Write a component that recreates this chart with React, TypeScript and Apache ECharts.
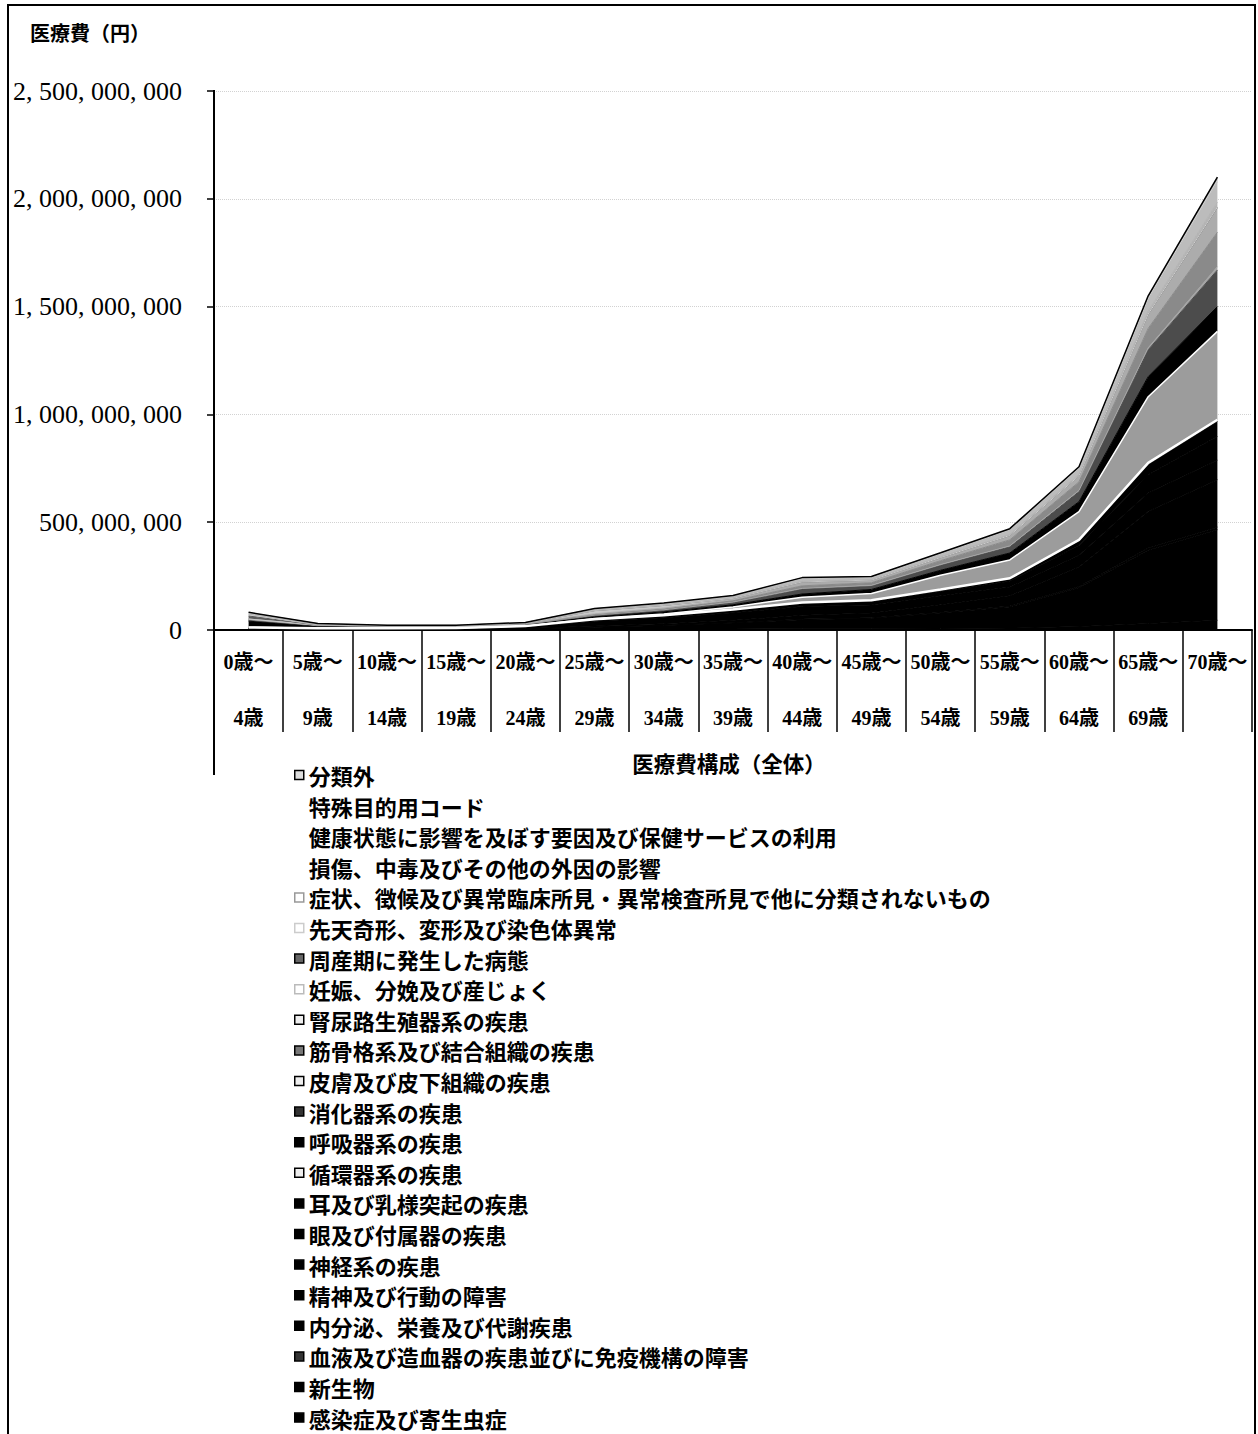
import React, { useEffect, useRef } from 'react';
import * as echarts from 'echarts';

// ---- categories ----
const AGE_FROM = ['0歳～', '5歳～', '10歳～', '15歳～', '20歳～', '25歳～', '30歳～', '35歳～', '40歳～', '45歳～', '50歳～', '55歳～', '60歳～', '65歳～', '70歳～'];
const AGE_TO = ['4歳', '9歳', '14歳', '19歳', '24歳', '29歳', '34歳', '39歳', '44歳', '49歳', '54歳', '59歳', '64歳', '69歳', ''];

// ---- y axis ----
const Y_MIN = 0;
const Y_MAX = 2500000000;
const Y_STEP = 500000000;

// values below are in millions of yen
const UNIT = 1000000;

// series names, bottom of the stack first
const SERIES_NAMES = [
  '感染症及び寄生虫症',
  '新生物',
  '血液及び造血器の疾患並びに免疫機構の障害',
  '内分泌、栄養及び代謝疾患',
  '精神及び行動の障害',
  '神経系の疾患',
  '眼及び付属器の疾患',
  '耳及び乳様突起の疾患',
  '循環器系の疾患',
  '呼吸器系の疾患',
  '消化器系の疾患',
  '皮膚及び皮下組織の疾患',
  '筋骨格系及び結合組織の疾患',
  '腎尿路生殖器系の疾患',
  '妊娠、分娩及び産じょく',
  '周産期に発生した病態',
  '先天奇形、変形及び染色体異常',
  '症状、徴候及び異常臨床所見・異常検査所見で他に分類されないもの',
  '損傷、中毒及びその他の外因の影響',
  '健康状態に影響を及ぼす要因及び保健サービスの利用',
  '特殊目的用コード',
  '分類外',
];

const V_INFECT = [6, 2.5, 1.2, 1, 1.5, 3, 4, 5, 6, 6, 7, 9, 16, 30, 45];
const V_NEOPLASM = [1.5, 1, 1.5, 1.8, 3, 10, 17, 27, 42, 48, 72, 98, 180, 340, 420];
const V_BLOOD = [0.5, 0.3, 0.3, 0.3, 0.5, 1, 1.5, 2, 2.5, 2.5, 3, 4, 6, 10, 12];
const V_ENDOCRINE = [1, 0.8, 1, 1, 2, 5, 7, 11, 18, 22, 35, 48, 90, 170, 220];
const V_MENTAL = [0.5, 1, 1.5, 2.5, 7, 22, 27, 35, 40, 38, 42, 40, 55, 85, 90];
const V_NERVOUS = [1.5, 1.2, 1.5, 1.5, 2.5, 6, 8, 11, 13, 14, 19, 27, 45, 85, 110];
const V_EYE = [0.7, 0.8, 0.7, 0.6, 1, 2, 2.5, 3, 5, 6, 8, 11, 22, 48, 70];
const V_EAR = [0.3, 0.4, 0.3, 0.3, 0.5, 1, 1, 1, 1.5, 1.5, 2, 3, 4, 7, 8];
const V_CIRC = [1, 0.5, 0.5, 0.5, 1, 3, 6, 12, 24, 31, 66, 85, 131, 307, 410];
const V_RESP = [28, 9, 5, 4, 4, 8, 10, 10, 15, 19, 23, 32, 46, 93, 115];
const V_DIGEST = [4, 2, 2, 2, 3, 6, 8, 10, 23, 16, 23, 29, 47, 125, 170];
const V_SKIN = [4, 2, 1.2, 1, 1, 2, 2, 2.5, 3, 3, 3.5, 4, 5, 9, 15];
const V_MUSCULO = [0.5, 0.5, 0.8, 1, 1.2, 3, 4, 6, 12, 12, 18, 28, 40, 90, 160];
const V_GENITO = [1.5, 0.5, 0.5, 0.5, 1, 3, 4, 6, 16, 12, 14, 20, 28, 65, 115];
const V_PREGNANCY = [0, 0, 0, 0.3, 2, 15, 12, 5, 1.5, 0.2, 0, 0, 0, 0, 0];
const V_PERINATAL = [14, 0.2, 0, 0, 0, 0, 0, 0, 0, 0, 0, 0, 0, 0, 0];
const V_CONGENITAL = [7, 1, 0.5, 0.3, 0.2, 0.5, 0.5, 0.5, 0.5, 0.3, 0.5, 0.5, 0.5, 1, 1.5];
const V_SYMPTOMS = [2, 0.8, 0.5, 0.5, 0.6, 1.5, 2, 2.5, 3, 3, 4, 5.5, 7, 14, 23];
const V_INJURY = [5, 4.5, 2.5, 2.4, 2.5, 6, 6.5, 8, 14, 10, 14, 20, 27, 55, 95];
const V_HEALTH = [1.5, 0.3, 0.2, 0.2, 0.2, 1, 1, 1.2, 1.5, 1.5, 2, 3, 3.5, 8, 10];
const V_SPECIAL = [0, 0, 0, 0, 0, 0, 0, 0, 0, 0, 0, 0, 0, 0, 0];
const V_UNCLASSIFIED = [1.5, 0.7, 0.3, 0.3, 0.3, 1, 1, 1.3, 1.5, 2, 2, 3, 4, 8, 10.5];

const SERIES_VALUES = [
  V_INFECT, V_NEOPLASM, V_BLOOD, V_ENDOCRINE, V_MENTAL, V_NERVOUS, V_EYE, V_EAR,
  V_CIRC, V_RESP, V_DIGEST, V_SKIN, V_MUSCULO, V_GENITO, V_PREGNANCY, V_PERINATAL,
  V_CONGENITAL, V_SYMPTOMS, V_INJURY, V_HEALTH, V_SPECIAL, V_UNCLASSIFIED,
];

// ---- styles (bottom first) ----
const AREA_COLORS = [
  '#000000', '#000000', '#000000', '#000000', '#000000', '#000000', '#000000', '#000000',
  '#9c9c9c', '#000000', '#4c4c4c', '#a4a4a4', '#8a8a8a', '#acacac', '#c8c8c8', '#5a5a5a',
  '#cfcfcf', '#b4b4b4', '#bcbcbc', '#c8c8c8', '#dddddd', '#a8a8a8',
];
const LEGEND_FILL = [
  '#000', '#000', '#333', '#000', '#000', '#000', '#000', '#000',
  '#eee', '#000', '#333', '#eee', '#777', '#eee', '#fff', '#666',
  '#fff', '#fff', 'rgba(0,0,0,0)', 'rgba(0,0,0,0)', 'rgba(0,0,0,0)', '#ddd',
];
const LEGEND_BORDER = [
  '#000', '#000', '#000', '#000', '#000', '#000', '#000', '#000',
  '#000', '#000', '#000', '#000', '#000', '#000', '#bbb', '#000',
  '#ccc', '#999', 'rgba(0,0,0,0)', 'rgba(0,0,0,0)', 'rgba(0,0,0,0)', '#000',
];

const SERIF = "'Liberation Serif', 'Noto Sans CJK JP', serif";
const GOTHIC = "'Noto Sans CJK JP', sans-serif";

const CATEGORIES = AGE_FROM.map((f, i) => (AGE_TO[i] ? `${f}\n${AGE_TO[i]}` : f));

function buildOption() {
  const series = SERIES_NAMES.map((name, i) => {
    let lineStyle: any = { color: AREA_COLORS[i], width: 1 };
    let z = 2;
    if (i === 7) { lineStyle = { color: '#ffffff', width: 2.5 }; z = 4; }
    if (i === 8) { lineStyle = { color: '#ffffff', width: 1.5 }; z = 4; }
    if (i === SERIES_NAMES.length - 1) { lineStyle = { color: '#000000', width: 1.5 }; z = 4; }
    return {
      name,
      type: 'line',
      stack: 'total',
      symbol: 'none',
      showSymbol: false,
      z,
      lineStyle,
      itemStyle: { color: AREA_COLORS[i] },
      areaStyle: { color: AREA_COLORS[i], opacity: 1 },
      data: SERIES_VALUES[i].map((v) => v * UNIT),
    };
  });

  const legendData = SERIES_NAMES.map((name, i) => ({
    name,
    itemStyle: {
      color: LEGEND_FILL[i],
      borderColor: LEGEND_BORDER[i],
      borderWidth: LEGEND_BORDER[i].startsWith('rgba') ? 0 : 1.5,
    },
  })).reverse();

  return {
    animation: false,
    backgroundColor: '#ffffff',
    grid: { left: 214, right: 6, top: 91, bottom: 804, containLabel: false },
    xAxis: {
      type: 'category',
      boundaryGap: true,
      data: CATEGORIES,
      axisLine: { show: true, lineStyle: { color: '#000', width: 2 } },
      axisTick: { show: true, interval: 0, length: 102, lineStyle: { color: '#000', width: 1.5 } },
      axisLabel: {
        interval: 0,
        margin: 4,
        lineHeight: 56,
        fontSize: 20,
        fontWeight: 'bold',
        fontFamily: SERIF,
        color: '#000',
      },
      splitLine: { show: false },
    },
    yAxis: {
      type: 'value',
      min: Y_MIN,
      max: Y_MAX,
      interval: Y_STEP,
      axisLine: { show: false },
      axisTick: { show: true, length: 7, lineStyle: { color: '#000', width: 1.5 } },
      axisLabel: {
        margin: 32,
        fontSize: 26,
        fontFamily: SERIF,
        color: '#000',
        formatter: (v: number) => v.toLocaleString('en-US').replace(/,/g, ', '),
      },
      splitLine: { show: true, lineStyle: { color: '#d2d2d2', type: 'dotted', width: 1 } },
    },
    legend: {
      orient: 'vertical',
      left: 289,
      top: 759,
      height: 720,
      icon: 'rect',
      itemWidth: 9,
      itemHeight: 9,
      itemGap: 8.6,
      selectedMode: false,
      textStyle: {
        fontFamily: GOTHIC,
        fontWeight: 'bold',
        fontSize: 22,
        lineHeight: 22,
        color: '#000',
      },
      data: legendData,
    },
    graphic: [
      {
        type: 'rect',
        silent: true,
        shape: { x: 8, y: 5, width: 1247, height: 1450 },
        style: { fill: 'none', stroke: '#000', lineWidth: 2 },
        z: 10,
      },
      {
        type: 'line',
        silent: true,
        shape: { x1: 214, y1: 90, x2: 214, y2: 775 },
        style: { stroke: '#000', lineWidth: 2 },
        z: 10,
      },
      {
        type: 'text',
        silent: true,
        x: 30,
        y: 32,
        style: {
          text: '医療費（円）',
          font: `bold 20px ${GOTHIC}`,
          fill: '#000',
          textAlign: 'left',
          textVerticalAlign: 'middle',
          verticalAlign: 'middle',
        },
        z: 10,
      },
      {
        type: 'text',
        silent: true,
        x: 729,
        y: 762,
        style: {
          text: '医療費構成（全体）',
          font: `bold 21.5px ${GOTHIC}`,
          fill: '#000',
          textAlign: 'center',
          textVerticalAlign: 'middle',
          verticalAlign: 'middle',
        },
        z: 10,
      },
    ],
    series,
  };
}

export default function App() {
  const ref = useRef<HTMLDivElement>(null);
  useEffect(() => {
    if (!ref.current) return;
    const chart = echarts.init(ref.current, null, { renderer: 'svg' });
    chart.setOption(buildOption() as any);
    return () => chart.dispose();
  }, []);
  return (
    <div
      ref={ref}
      style={{ position: 'absolute', left: 0, top: 0, width: 1258, height: 1434, background: '#fff' }}
    />
  );
}
